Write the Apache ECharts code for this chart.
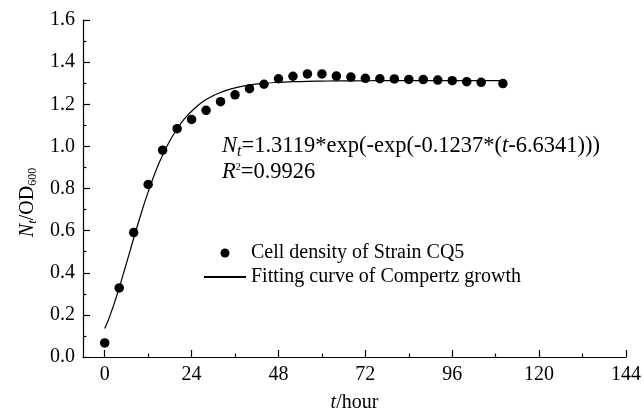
<!DOCTYPE html>
<html>
<head>
<meta charset="utf-8">
<script src="https://cdn.jsdelivr.net/npm/echarts@6/dist/echarts.min.js"></script>
<style>html,body{margin:0;padding:0;background:#fff;}#c{width:643px;height:411px;}</style>
</head>
<body>
<div id="c"></div>
<script>
// Measured cell density (OD600) of Strain CQ5
const timeHours = [0, 4, 8, 12, 16, 20, 24, 28, 32, 36, 40, 44, 48, 52, 56, 60, 64, 68, 72, 76, 80, 84, 88, 92, 96, 100, 104, 110];
const cellDensity = [0.067, 0.328, 0.591, 0.819, 0.982, 1.084, 1.128, 1.171, 1.212, 1.245, 1.274, 1.295, 1.321, 1.333, 1.344, 1.344, 1.334, 1.329, 1.323, 1.321, 1.320, 1.318, 1.317, 1.315, 1.312, 1.307, 1.304, 1.298];
// Fitted Gompertz curve
const fitTime = [0, 1, 2, 3, 4, 5, 6, 7, 8, 10, 12, 14, 16, 18, 20, 22, 24, 26, 28, 30, 32, 36, 40, 44, 48, 52, 56, 60, 64, 72, 80, 90, 100, 110];
const fitValue = [0.135, 0.176, 0.223, 0.274, 0.328, 0.386, 0.445, 0.504, 0.564, 0.678, 0.784, 0.878, 0.959, 1.027, 1.083, 1.130, 1.167, 1.198, 1.222, 1.241, 1.256, 1.278, 1.291, 1.299, 1.304, 1.307, 1.309, 1.310, 1.311, 1.3115, 1.3118, 1.3119, 1.3119, 1.3119];
// Axis ticks
const xMajorTicks = [0, 24, 48, 72, 96, 120, 144];
const xMinorTicks = [12, 36, 60, 84, 108, 132];
const legendNames = ['Cell density of Strain CQ5', 'Fitting curve of Compertz growth'];

const FONT = '"Liberation Serif", "Times New Roman", serif';
const chart = echarts.init(document.getElementById('c'), null, {renderer: 'canvas'});

const scatterData = timeHours.map((t, i) => [t, cellDensity[i]]);
const fitData = fitTime.map((t, i) => [t, fitValue[i]]);

const axisLineStyle = {color: '#000', width: 1.2};

chart.setOption({
  animation: false,
  backgroundColor: '#fff',
  grid: {left: 83, right: 17, top: 20, bottom: 54, containLabel: false, outerBoundsMode: 'none'},
  legend: {
    orient: 'vertical',
    left: 203,
    top: 243,
    padding: 0,
    itemWidth: 42,
    itemHeight: 9,
    itemGap: 4,
    textStyle: {fontFamily: FONT, fontSize: 20, color: '#000'},
    data: [
      {name: legendNames[0], icon: 'circle'},
      {name: legendNames[1], itemStyle: {opacity: 0}}
    ]
  },
  xAxis: [
    {
      type: 'value', min: -6, max: 144,
      axisLine: {show: true, onZero: false, lineStyle: axisLineStyle},
      axisTick: {show: true, inside: true, length: 7, customValues: xMajorTicks, lineStyle: axisLineStyle},
      axisLabel: {customValues: xMajorTicks, margin: 8, color: '#000', fontFamily: FONT, fontSize: 20},
      splitLine: {show: false},
      name: '{i|t}{n|/hour}',
      nameLocation: 'middle',
      nameGap: 36,
      nameTextStyle: {
        rich: {
          i: {fontFamily: FONT, fontSize: 20, fontStyle: 'italic', color: '#000'},
          n: {fontFamily: FONT, fontSize: 20, color: '#000'}
        }
      }
    },
    {
      type: 'value', min: -6, max: 144, position: 'bottom',
      axisLine: {show: false},
      axisTick: {show: true, inside: true, length: 3.5, customValues: xMinorTicks, lineStyle: axisLineStyle},
      axisLabel: {show: false},
      splitLine: {show: false}
    }
  ],
  yAxis: {
    type: 'value', min: 0, max: 1.6, interval: 0.2,
    axisLine: {show: true, onZero: false, lineStyle: axisLineStyle},
    axisTick: {show: true, inside: true, length: 7, lineStyle: axisLineStyle},
    minorTick: {show: true, splitNumber: 2, length: 3.5, lineStyle: axisLineStyle},
    axisLabel: {margin: 8, color: '#000', fontFamily: FONT, fontSize: 20, formatter: v => v.toFixed(1)},
    splitLine: {show: false},
    name: '{i|N}{isub|t}{n|/OD}{sub|600}',
    nameLocation: 'middle',
    nameGap: 44,
    nameTextStyle: {
      padding: [0, 28, 0, 0],
      rich: {
        i: {fontFamily: FONT, fontSize: 20, fontStyle: 'italic', color: '#000'},
        isub: {fontFamily: FONT, fontSize: 13, fontStyle: 'italic', color: '#000', padding: [9, 0, 0, 0]},
        n: {fontFamily: FONT, fontSize: 20, color: '#000'},
        sub: {fontFamily: FONT, fontSize: 12, color: '#000', padding: [9, 0, 0, 0]}
      }
    }
  },
  graphic: [
    {
      type: 'text', left: 222, top: 135,
      style: {
        text: '{i|N}{isub|t}{n|=1.3119*exp(-exp(-0.1237*(}{i|t}{n|-6.6341)))}',
        rich: {
          i: {fontFamily: FONT, fontSize: 22.5, fontStyle: 'italic', fill: '#000'},
          isub: {fontFamily: FONT, fontSize: 16, fontStyle: 'italic', fill: '#000', padding: [10, 0, 0, 0]},
          n: {fontFamily: FONT, fontSize: 22.5, fill: '#000'}
        }
      }
    },
    {
      type: 'text', left: 222, top: 161,
      style: {
        text: '{i|R}{sup|2}{n|=0.9926}',
        rich: {
          i: {fontFamily: FONT, fontSize: 22.5, fontStyle: 'italic', fill: '#000'},
          sup: {fontFamily: FONT, fontSize: 10, fill: '#000', padding: [0, 0, 11, 0]},
          n: {fontFamily: FONT, fontSize: 22.5, fill: '#000'}
        }
      }
    }
  ],
  series: [
    {
      name: legendNames[0],
      type: 'scatter',
      data: scatterData,
      symbol: 'circle',
      symbolSize: 9.5,
      itemStyle: {color: '#000', opacity: 1},
      z: 3
    },
    {
      name: legendNames[1],
      type: 'line',
      data: fitData,
      smooth: true,
      showSymbol: false,
      symbol: 'none',
      lineStyle: {color: '#000', width: 1.2},
      itemStyle: {color: '#000'},
      z: 2
    }
  ]
});
</script>
</body>
</html>
